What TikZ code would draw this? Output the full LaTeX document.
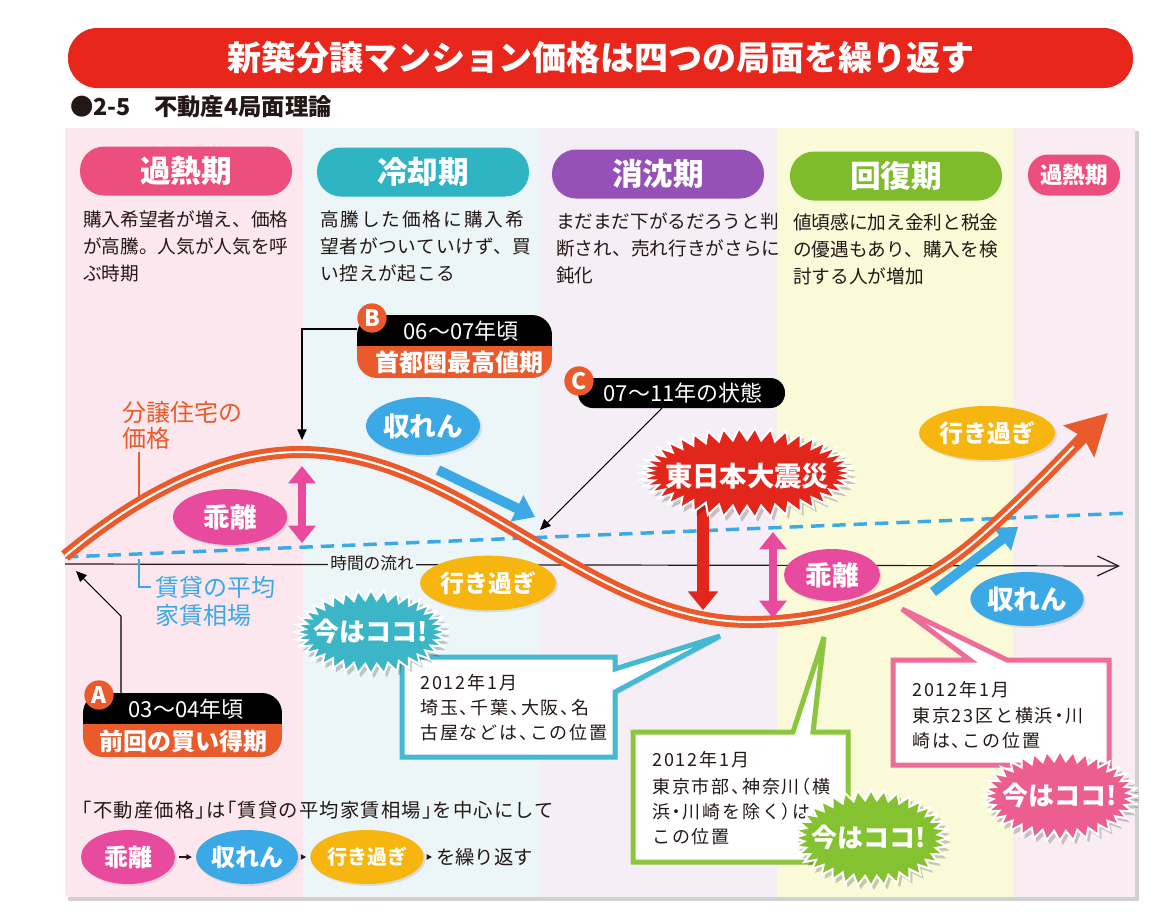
\documentclass[tikz,border=0pt]{standalone}
\usepackage{fontspec}
\setmainfont{Noto Sans CJK JP}
\usetikzlibrary{shapes.geometric,arrows.meta,shadows}
\definecolor{bannerred}{HTML}{E8261C}
\definecolor{colA}{HTML}{FCE7EE}
\definecolor{colB}{HTML}{ECF5F8}
\definecolor{colC}{HTML}{F6EEF6}
\definecolor{colD}{HTML}{FAFAD8}
\definecolor{colE}{HTML}{F9EDF3}
\definecolor{pkA}{HTML}{EC4F7D}
\definecolor{tlB}{HTML}{2FB4C4}
\definecolor{ppC}{HTML}{9651B7}
\definecolor{gnD}{HTML}{7EBC2C}
\definecolor{curvec}{HTML}{EA5A2B}
\definecolor{magen}{HTML}{E84A9E}
\definecolor{sky}{HTML}{3BA9E6}
\definecolor{ylw}{HTML}{F6B50F}
\definecolor{quake}{HTML}{E3261C}
\definecolor{burstT}{HTML}{3CB6C6}
\definecolor{burstG}{HTML}{85C232}
\definecolor{burstP}{HTML}{EC5E8F}
\definecolor{inkc}{HTML}{231815}
\definecolor{boxT}{HTML}{45B9D1}
\definecolor{boxG}{HTML}{8CC63F}
\definecolor{boxP}{HTML}{EE6C98}
\newcommand\mkburst[7]{%
  \fill[#7] ({#1+#3},{#2}) \foreach \i in {1,...,#5}{ -- ({#1+(#3-mod(\i,2)*#6)*cos(\i*(360/#5))},{#2+(#4-mod(\i,2)*#6)*sin(\i*(360/#5))}) } -- cycle;}
\tikzset{
  phasepill/.style={rectangle, rounded corners=18pt, minimum width=159pt, minimum height=36.75pt, text=white, font=\bfseries\fontsize{23}{23}\selectfont, inner sep=0pt},
  desc/.style={anchor=west, inner sep=0pt, text=inkc, font=\fontsize{14}{14}\selectfont},
  oval/.style={ellipse, inner sep=0pt, text=white, font=\bfseries\fontsize{20}{20}\selectfont, drop shadow={opacity=0.2,shadow xshift=1.5pt,shadow yshift=-1.5pt}},
  burstlbl/.style={text=white, font=\bfseries\fontsize{19.5}{19.5}\selectfont, inner sep=0pt},
  ptr/.style={draw=black, line width=0.8pt, -{Triangle[length=8pt,width=7pt]}},
  cline/.style={anchor=west, inner sep=0pt, text=inkc, font=\fontsize{13.5}{13.5}\selectfont\addfontfeature{RawFeature=+halt,LetterSpace=10}},
  callout/.style={fill=white, line width=3.75pt, line join=miter, drop shadow={opacity=0.2,shadow xshift=2pt,shadow yshift=-2pt}},
  pilltxt/.style={text=white, inner sep=0pt, font=\fontsize{16.5}{16.5}\selectfont},
  pillbig/.style={text=white, inner sep=0pt, font=\bfseries\fontsize{18}{18}\selectfont},
  letter/.style={circle, fill=curvec, minimum size=22pt, inner sep=0pt, text=white, font=\bfseries\fontsize{17}{17}\selectfont},
  smallarr/.style={draw=inkc, line width=0.8pt, shorten <=3pt, shorten >=3pt, -{Triangle[length=4pt,width=4pt]}}
}
\begin{document}
\begin{tikzpicture}[x=0.75pt,y=-0.75pt]
\path[use as bounding box, fill=white] (0,0) rectangle (1165,918);
% title
\fill[bannerred, rounded corners=22pt] (68,28) rectangle (1133,88);
\node[font=\bfseries\fontsize{25.5}{25.5}\selectfont, text=white, inner sep=0pt] (title) at (601,58) {新築分譲マンション価格は四つの局面を繰り返す};
\node[anchor=west, inner sep=0pt, font=\bfseries\fontsize{17.5}{17.5}\selectfont, text=inkc] (sub) at (70,107) {●2-5\quad 不動産4局面理論};
% panel
\fill[black!18] (68,131) rectangle (1139,901);
\fill[colA] (65,128) rectangle (303,897);
\fill[colB] (303,128) rectangle (540,897);
\fill[colC] (540,128) rectangle (777,897);
\fill[colD] (777,128) rectangle (1013,897);
\fill[colE] (1013,128) rectangle (1135,897);
% phase pills
\node[phasepill, fill=pkA] (p1) at (186,171) {過熱期};
\node[phasepill, fill=tlB] (p2) at (423,172) {冷却期};
\node[phasepill, fill=ppC] (p3) at (658,174) {消沈期};
\node[phasepill, fill=gnD] (p4) at (896,176) {回復期};
\node[phasepill, fill=pkA, minimum width=69pt, minimum height=30.75pt, rounded corners=15pt, font=\bfseries\fontsize{17}{17}\selectfont] (p5) at (1074,175) {過熱期};
% descriptions
\node[desc] (d1a) at (83,219) {購入希望者が増え、価格};
\node[desc] (d1b) at (83,246) {が高騰。人気が人気を呼};
\node[desc] (d1c) at (83,273) {ぶ時期};
\node[desc, font=\fontsize{14}{14}\selectfont\addfontfeature{LetterSpace=10}] (d2a) at (320,219) {高騰した価格に購入希};
\node[desc, font=\fontsize{14}{14}\selectfont\addfontfeature{LetterSpace=4}] (d2b) at (320,246) {望者がついていけず、買};
\node[desc, font=\fontsize{14}{14}\selectfont\addfontfeature{LetterSpace=4}] (d2c) at (320,273) {い控えが起こる};
\node[desc] (d3a) at (556,221) {まだまだ下がるだろうと判};
\node[desc] (d3b) at (556,248) {断され、売れ行きがさらに};
\node[desc] (d3c) at (556,275) {鈍化};
\node[desc] (d4a) at (793,222) {値頃感に加え金利と税金};
\node[desc] (d4b) at (793,249) {の優遇もあり、購入を検};
\node[desc] (d4c) at (793,276) {討する人が増加};
% rent line and axis
\coordinate (dl) at (65,557);
\coordinate (dr) at (1130,513);
\draw[sky, line width=2.6pt, dash pattern=on 10pt off 6pt] (dl) -- (dr);
\coordinate (ax0) at (65,564);
\coordinate (ax1) at (1120,566);
\draw[inkc, line width=0.9pt, -{Straight Barb[length=16pt,width=15pt]}] (ax0) -- (ax1);
\node[fill=colB, inner sep=2pt, font=\fontsize{12.5}{12.5}\selectfont, text=inkc] (tflow) at (372,563) {時間の流れ};
% labels
\node[anchor=west, inner sep=0pt, text=curvec, font=\fontsize{18}{18}\selectfont] (lab1) at (122,412) {分譲住宅の};
\node[anchor=west, inner sep=0pt, text=curvec, font=\fontsize{18}{18}\selectfont] (lab1b) at (122,438) {価格};
\coordinate (lp) at (139,452);
\coordinate (lc) at (139,503);
\draw[curvec, line width=1pt] (lp) -- (lc);
\node[anchor=west, inner sep=0pt, text=sky, font=\fontsize{18}{18}\selectfont] (lab2) at (155,587) {賃貸の平均};
\node[anchor=west, inner sep=0pt, text=sky, font=\fontsize{18}{18}\selectfont] (lab2b) at (155,615) {家賃相場};
\coordinate (rp) at (139,559);
\coordinate (rq) at (151,587);
\draw[sky, line width=1pt] (rp) |- (rq);
% arrows
\coordinate (g1a) at (302,466); \coordinate (g1b) at (302,543);
\draw[magen, line width=6pt, {Triangle[length=13pt,width=20pt]}-{Triangle[length=13pt,width=20pt]}] (g1a) -- (g1b);
\coordinate (g2a) at (773,532); \coordinate (g2b) at (773,618);
\draw[magen, line width=6pt, {Triangle[length=13pt,width=20pt]}-{Triangle[length=13pt,width=20pt]}] (g2a) -- (g2b);
\coordinate (s1a) at (438,470); \coordinate (s1b) at (535,517);
\draw[sky, line width=7.5pt, -{Triangle[length=15pt,width=21pt]}] (s1a) -- (s1b);
\coordinate (s2a) at (933,592); \coordinate (s2b) at (1018,527);
\draw[sky, line width=7.5pt, -{Triangle[length=15pt,width=21pt]}] (s2a) -- (s2b);
\coordinate (q1) at (703,505); \coordinate (q2) at (703,610);
\draw[quake, line width=9pt, -{Triangle[length=14pt,width=22pt]}] (q1) -- (q2);
% ovals
\node[oval, fill=magen, minimum width=85.5pt, minimum height=42pt] (k1) at (230,517) {乖離};
\node[oval, fill=sky, minimum width=85.5pt, minimum height=43.5pt] (r1) at (423,426) {収れん};
\node[oval, fill=ylw, minimum width=84pt, minimum height=41pt, font=\bfseries\fontsize{18}{18}\selectfont] (y1) at (488,583) {行き過ぎ};
\node[oval, fill=magen, minimum width=72pt, minimum height=39pt] (k2) at (832,575) {乖離};
\node[oval, fill=sky, minimum width=84pt, minimum height=40.5pt] (r2) at (1027,599) {収れん};
\node[oval, fill=ylw, minimum width=85.5pt, minimum height=40.5pt, font=\bfseries\fontsize{18}{18}\selectfont] (y2) at (987,433) {行き過ぎ};
% price curve
\draw[curvec, line width=9pt, -{Stealth[length=30pt,width=32pt,inset=4pt]}] (65,556) .. controls (150,485) and (230,452) .. (300,452) .. controls (464,452) and (586,622) .. (750,622) .. controls (840,622) and (920,590) .. (980,537) .. controls (1030,493) and (1070,450) .. (1108,413);
\draw[white, line width=1.6pt, shorten >=36pt] (65,556) .. controls (150,485) and (230,452) .. (300,452) .. controls (464,452) and (586,622) .. (750,622) .. controls (840,622) and (920,590) .. (980,537) .. controls (1030,493) and (1070,450) .. (1108,413);
% quake burst
\mkburst{750}{477}{107}{45}{84}{12}{black, opacity=0.2}
\mkburst{747}{473}{107}{45}{84}{12}{quake, draw=white, line width=1.5pt}
\node[burstlbl, font=\bfseries\fontsize{20.5}{20.5}\selectfont] (quaketxt) at (747,476) {東日本大震災};
% A B C pointers
\coordinate (Bstart) at (357,329);
\coordinate (peak) at (302,440);
\draw[ptr] (Bstart) -| (peak);
\coordinate (Cstart) at (662,408);
\coordinate (Ctip) at (540,530);
\draw[ptr] (Cstart) -- (Ctip);
\coordinate (Astart) at (121,693);
\coordinate (Abend) at (121,616);
\coordinate (Atip) at (76,571);
\draw[ptr] (Astart) -- (Abend) -- (Atip);
% B pill
\begin{scope}
\clip[rounded corners=15pt] (357,315) rectangle (552,378);
\fill[black] (357,315) rectangle (552,346);
\fill[curvec] (357,346) rectangle (552,378);
\end{scope}
\node[pilltxt] (Bt) at (461,331) {06～07年頃};
\node[pillbig] (Bb) at (459,362) {首都圏最高値期};
\node[letter] (Bc) at (372,318) {B};
% C pill
\fill[black, rounded corners=11pt] (578,378) rectangle (785,408);
\node[pilltxt] (Ct) at (683,393) {07～11年の状態};
\node[letter] (Cc) at (579,381) {C};
% A pill
\begin{scope}
\clip[rounded corners=15pt] (83,693) rectangle (282,757);
\fill[black] (83,693) rectangle (282,724);
\fill[curvec] (83,724) rectangle (282,757);
\end{scope}
\node[pilltxt] (At) at (186,709) {03～04年頃};
\node[pillbig] (Ab) at (183,741) {前回の買い得期};
\node[letter] (Ac) at (99,695) {A};
% callouts
\path[callout, draw=boxT] (402,657) -- (615,657) -- (615,669) -- (720,636) -- (615,692) -- (615,757) -- (402,757) -- cycle;
\node[cline] (t1a) at (420,683) {2012年1月};
\node[cline] (t1b) at (420,708) {埼玉、千葉、大阪、名};
\node[cline] (t1c) at (420,733) {古屋などは、この位置};
\path[callout, draw=boxG] (633,732) -- (793,732) -- (824,637) -- (813,732) -- (848,732) -- (848,862) -- (633,862) -- cycle;
\node[cline] (t2a) at (652,760) {2012年1月};
\node[cline] (t2b) at (652,787) {東京市部、神奈川（横};
\node[cline] (t2c) at (652,812) {浜・川崎を除く）は、};
\node[cline] (t2d) at (652,837) {この位置};
\path[callout, draw=boxP] (893,660) -- (970,660) -- (902,609) -- (1007,660) -- (1109,660) -- (1109,765) -- (893,765) -- cycle;
\node[cline] (t3a) at (912,690) {2012年1月};
\node[cline] (t3b) at (912,716) {東京23区と横浜・川};
\node[cline] (t3c) at (912,741) {崎は、この位置};
% now-here bursts
\mkburst{374}{636}{76}{42}{72}{10}{black, opacity=0.2}
\mkburst{371}{632}{76}{42}{72}{10}{burstT, draw=white, line width=1.5pt}
\node[burstlbl] (now1) at (371,632) {今はココ!};
\mkburst{874}{842}{77}{48}{72}{10}{black, opacity=0.2}
\mkburst{871}{838}{77}{48}{72}{10}{burstG, draw=white, line width=1.5pt}
\node[burstlbl] (now2) at (869,838) {今はココ!};
\mkburst{1063}{800}{77}{45}{72}{10}{black, opacity=0.2}
\mkburst{1060}{796}{77}{45}{72}{10}{burstP, draw=white, line width=1.5pt}
\node[burstlbl] (now3) at (1060,796) {今はココ!};
% bottom summary
\node[anchor=west, inner sep=0pt, text=inkc, font=\fontsize{14.5}{14.5}\selectfont\addfontfeature{RawFeature=+halt,LetterSpace=6}] (rule) at (82,810) {「不動産価格」は「賃貸の平均家賃相場」を中心にして};
\node[oval, fill=magen, minimum width=70.5pt, minimum height=40.5pt, font=\bfseries\fontsize{18}{18}\selectfont] (b1) at (128,857) {乖離};
\node[oval, fill=sky, minimum width=70.5pt, minimum height=40.5pt, font=\bfseries\fontsize{18}{18}\selectfont] (b2) at (247,857) {収れん};
\node[oval, fill=ylw, minimum width=70.5pt, minimum height=40.5pt, font=\bfseries\fontsize{15}{15}\selectfont] (b3) at (367,857) {行き過ぎ};
\node[anchor=west, inner sep=0pt, text=inkc, font=\fontsize{14.5}{14.5}\selectfont] (rep) at (436,857) {を繰り返す};
\draw[smallarr] (b1) -- (b2);
\draw[smallarr] (b2) -- (b3);
\draw[smallarr] (b3) -- (rep);
\end{tikzpicture}
\end{document}
